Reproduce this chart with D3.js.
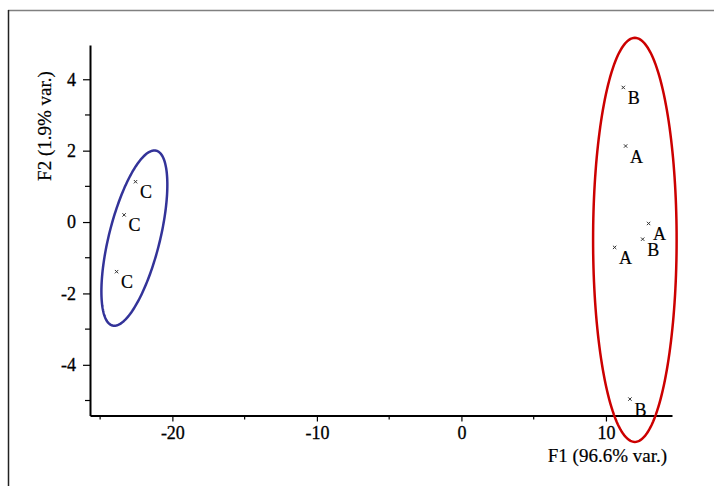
<!DOCTYPE html>
<html>
<head>
<meta charset="utf-8">
<script src="https://cdn.jsdelivr.net/npm/d3@7/dist/d3.min.js"></script>
<style>
  html, body { margin: 0; padding: 0; background: #fff; }
  svg { display: block; }
  text { font-family: "Liberation Serif", "Times New Roman", serif; fill: #000; }
</style>
</head>
<body>
<svg id="chart" width="714" height="486"></svg>
<script>
// Observation scores on the first two factors
const labels = ["B", "A", "A", "B", "A", "B", "C", "C", "C"];
const f1Values = [11.2, 11.36, 12.95, 12.54, 10.6, 11.66, -22.55, -23.34, -23.86];
const f2Values = [3.77, 2.13, -0.04, -0.48, -0.71, -4.96, 1.13, 0.2, -1.39];

// Group ellipses: centre and two half-axis vectors, in factor units
const ellipseNames = ["AB", "C"];
const ellipseCenters = [[12.0, -0.5], [-22.63, -0.45]];
const ellipseMajor = [[0, 5.66], [1.51, 2.45]];
const ellipseMinor = [[2.89, 0], [1.71, -0.17]];
const ellipseColors = ["#cc0000", "#333399"];

// Axis ticks
const xMajorTicks = [-20, -10, 0, 10];
const xMinorTicks = [-25, -15, -5, 5];
const yMajorTicks = [-4, -2, 0, 2, 4];
const yMinorTicks = [-5, -3, -1, 1, 3];
const xTitle = "F1 (96.6% var.)";
const yTitle = "F2 (1.9% var.)";

const svg = d3.select("#chart");
const fmt = d => String(d); // plain hyphen for negatives

// Outer frame (top and left edges)
svg.append("line").attr("x1", 8).attr("x2", 714).attr("y1", 10.5).attr("y2", 10.5)
  .attr("stroke", "#808080").attr("stroke-width", 1.5);
svg.append("line").attr("x1", 8.5).attr("x2", 8.5).attr("y1", 10).attr("y2", 486)
  .attr("stroke", "#222").attr("stroke-width", 1.5);

const x = d3.scaleLinear().domain([-25.7, 14.57]).range([90, 672]);
const y = d3.scaleLinear().domain([-5.42, 4.96]).range([415.5, 45]);

const x0 = x.range()[0];
const y0 = y.range()[0];

// X axis
const gx = svg.append("g").attr("transform", `translate(0,${y0})`);
gx.call(d3.axisBottom(x).tickValues(xMajorTicks).tickSize(6).tickSizeOuter(0).tickPadding(5)
  .tickFormat(fmt));
gx.append("g").selectAll("line").data(xMinorTicks).join("line")
  .attr("x1", d => x(d)).attr("x2", d => x(d)).attr("y1", 0).attr("y2", 4)
  .attr("stroke", "#000").attr("stroke-width", 1.2);

// Y axis
const gy = svg.append("g").attr("transform", `translate(${x0},0)`);
gy.call(d3.axisLeft(y).tickValues(yMajorTicks).tickSize(7).tickSizeOuter(0).tickPadding(7)
  .tickFormat(fmt));
gy.append("g").selectAll("line").data(yMinorTicks).join("line")
  .attr("x1", 0).attr("x2", -5).attr("y1", d => y(d)).attr("y2", d => y(d))
  .attr("stroke", "#000").attr("stroke-width", 1.2);

[gx, gy].forEach(g => {
  g.select(".domain").attr("stroke", "#000").attr("stroke-width", 2);
  g.selectAll(".tick line").attr("stroke", "#000").attr("stroke-width", 1.2);
  g.selectAll(".tick text").attr("font-family", "Liberation Serif, serif")
    .attr("font-size", 18).attr("fill", "#000")
    .attr("stroke", "#000").attr("stroke-width", 0.3);
});

// Axis titles
svg.append("text").attr("x", 667).attr("y", 462).attr("text-anchor", "end")
  .attr("font-size", 19).attr("stroke", "#000").attr("stroke-width", 0.2).text(xTitle);
svg.append("text").attr("transform", "translate(51,126) rotate(-90)")
  .attr("text-anchor", "middle").attr("font-size", 19)
  .attr("stroke", "#000").attr("stroke-width", 0.2).text(yTitle);

// Group ellipses
const line = d3.line().x(d => x(d[0])).y(d => y(d[1])).curve(d3.curveLinearClosed);
const steps = d3.range(0, 2 * Math.PI, Math.PI / 90);
ellipseNames.forEach((name, i) => {
  const c = ellipseCenters[i], u = ellipseMajor[i], v = ellipseMinor[i];
  const pts = steps.map(t => [
    c[0] + Math.cos(t) * u[0] + Math.sin(t) * v[0],
    c[1] + Math.cos(t) * u[1] + Math.sin(t) * v[1]
  ]);
  svg.append("path").attr("class", "ellipse-" + name).attr("d", line(pts))
    .attr("fill", "none").attr("stroke", ellipseColors[i]).attr("stroke-width", 2.5);
});

// Observations: small cross marker with its group letter
const obs = labels.map((l, i) => ({ label: l, f1: f1Values[i], f2: f2Values[i] }));
const marker = d3.symbol().type(d3.symbolTimes).size(9);
const gp = svg.append("g");
gp.selectAll("path").data(obs).join("path")
  .attr("transform", d => `translate(${x(d.f1)},${y(d.f2)})`)
  .attr("d", marker).attr("stroke", "#333").attr("stroke-width", 1).attr("fill", "none");
gp.selectAll("text").data(obs).join("text")
  .attr("x", d => x(d.f1) + 4.5).attr("y", d => y(d.f2) + 16.5)
  .attr("font-size", 18).attr("stroke", "#000").attr("stroke-width", 0.2)
  .text(d => d.label);
</script>
</body>
</html>
